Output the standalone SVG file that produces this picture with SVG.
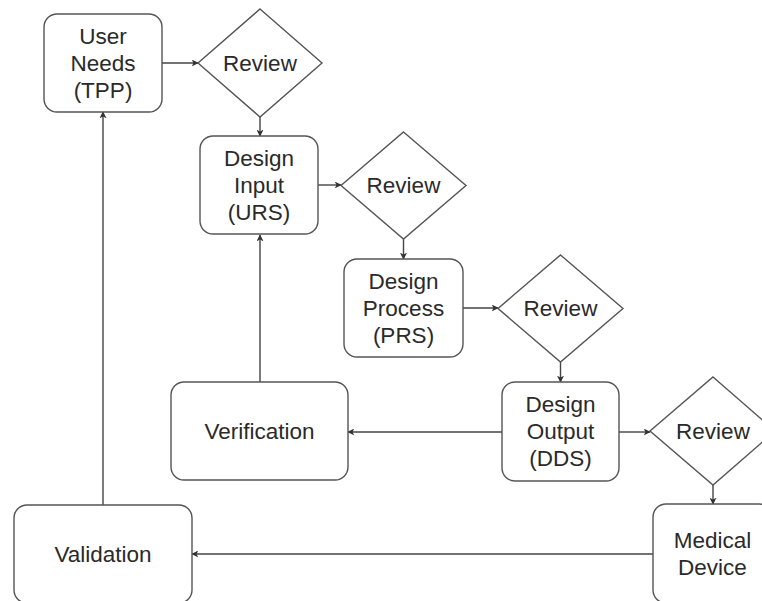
<svg xmlns="http://www.w3.org/2000/svg" width="762" height="601" viewBox="0 0 762 601">
  <style>
    .box { fill: #ffffff; stroke: #555555; stroke-width: 1.4; }
    .lbl { font-family: "Liberation Sans", Arial, sans-serif; font-size: 22.5px; fill: #2a2a2a; text-anchor: middle; }
    .edge { fill: none; stroke: #444444; stroke-width: 1.4; marker-end: url(#arrow); }
  </style>
  <defs>
    <marker id="arrow" viewBox="0 0 10 10" refX="9" refY="5" markerWidth="7" markerHeight="7" markerUnits="userSpaceOnUse" orient="auto">
      <path d="M0,0 L10,5 L0,10 L2.5,5 Z" fill="#333333"/>
    </marker>
  </defs>
  <rect width="762" height="601" fill="#ffffff"/>

  <g id="connectors">
    <line class="edge" x1="162" y1="63" x2="198" y2="63"/>
    <line class="edge" x1="260" y1="117" x2="260" y2="136"/>
    <line class="edge" x1="318" y1="185" x2="341" y2="185"/>
    <line class="edge" x1="403.5" y1="239" x2="403.5" y2="259"/>
    <line class="edge" x1="463" y1="308" x2="498" y2="308"/>
    <line class="edge" x1="560.5" y1="362" x2="560.5" y2="382"/>
    <line class="edge" x1="619" y1="432" x2="650" y2="432"/>
    <line class="edge" x1="713" y1="485" x2="713" y2="504"/>
    <line class="edge" x1="502" y1="432" x2="348" y2="432"/>
    <line class="edge" x1="653" y1="554" x2="192" y2="554"/>
    <line class="edge" x1="260" y1="382" x2="260" y2="235"/>
    <line class="edge" x1="103" y1="505" x2="103" y2="112"/>
  </g>

  <g id="user-needs">
    <rect class="box" x="44" y="14" width="118" height="98" rx="13"/>
    <text class="lbl" x="103" y="44">User</text>
    <text class="lbl" x="103" y="71">Needs</text>
    <text class="lbl" x="103" y="98">(TPP)</text>
  </g>
  <g id="review-1">
    <polygon class="box" points="260,9 322,63 260,117 198,63"/>
    <text class="lbl" x="260" y="71">Review</text>
  </g>
  <g id="design-input">
    <rect class="box" x="200" y="136" width="118" height="98" rx="13"/>
    <text class="lbl" x="259" y="166">Design</text>
    <text class="lbl" x="259" y="193">Input</text>
    <text class="lbl" x="259" y="220">(URS)</text>
  </g>
  <g id="review-2">
    <polygon class="box" points="403.5,132 466,185.5 403.5,239 341,185.5"/>
    <text class="lbl" x="403.5" y="193">Review</text>
  </g>
  <g id="design-process">
    <rect class="box" x="344" y="259" width="119" height="98" rx="13"/>
    <text class="lbl" x="403.5" y="289">Design</text>
    <text class="lbl" x="403.5" y="316">Process</text>
    <text class="lbl" x="403.5" y="343">(PRS)</text>
  </g>
  <g id="review-3">
    <polygon class="box" points="560.5,255 623,308.5 560.5,362 498,308.5"/>
    <text class="lbl" x="560.5" y="316">Review</text>
  </g>
  <g id="design-output">
    <rect class="box" x="502" y="382" width="117" height="99" rx="13"/>
    <text class="lbl" x="560.5" y="412">Design</text>
    <text class="lbl" x="560.5" y="439">Output</text>
    <text class="lbl" x="560.5" y="466">(DDS)</text>
  </g>
  <g id="review-4">
    <polygon class="box" points="713,377 775,431 713,485 650,431"/>
    <text class="lbl" x="713" y="439">Review</text>
  </g>
  <g id="medical-device">
    <rect class="box" x="653" y="504" width="119" height="99" rx="13"/>
    <text class="lbl" x="712.5" y="548">Medical</text>
    <text class="lbl" x="712.5" y="575">Device</text>
  </g>
  <g id="verification">
    <rect class="box" x="171" y="382" width="177" height="98" rx="13"/>
    <text class="lbl" x="259.5" y="439">Verification</text>
  </g>
  <g id="validation">
    <rect class="box" x="14" y="505" width="178" height="98" rx="13"/>
    <text class="lbl" x="103" y="562">Validation</text>
  </g>
</svg>
